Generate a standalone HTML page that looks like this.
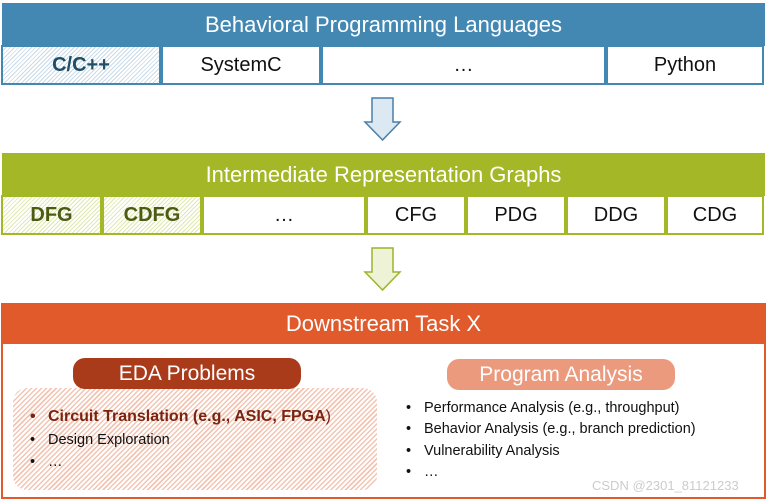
<!DOCTYPE html>
<html><head><style>
body{margin:0;width:767px;height:500px;background:#fff;position:relative;overflow:hidden;font-family:"Liberation Sans",sans-serif}
.a{position:absolute;box-sizing:border-box;display:flex;align-items:center;justify-content:center;white-space:nowrap}
.hb{background:#4388b3;color:#fff;font-size:22px}
.cb{border:2px solid #4388b3;background:#fff;color:#111;font-size:20px;margin-left:-2px}
.hg{background:#a4b726;color:#fff;font-size:22px}
.cg{border:2px solid #a4b726;background:#fff;color:#111;font-size:20px;margin-left:-2px}
.hatchb{background:repeating-linear-gradient(135deg,#fff 0 2px,#c9dbe8 2px 3px)}
.hatchg{background:repeating-linear-gradient(135deg,#fff 0 2px,#dfe8b0 2px 3px)}
ul{margin:0;padding:0;list-style:none;position:absolute}
li{position:absolute;white-space:nowrap;font-size:14.5px;color:#111}
li:before{content:"•";position:absolute;left:-18px}
</style></head><body>
<div class="a hb" style="left:2px;top:3px;width:763px;height:43px">Behavioral Programming Languages</div>
<div class="a cb hatchb" style="left:3px;top:45px;width:160px;height:40px;font-weight:bold;color:#1f4e68">C/C++</div>
<div class="a cb" style="left:163px;top:45px;width:160px;height:40px">SystemC</div>
<div class="a cb" style="left:323px;top:45px;width:285px;height:40px">…</div>
<div class="a cb" style="left:608px;top:45px;width:158px;height:40px">Python</div>

<svg style="position:absolute;left:0;top:0" width="767" height="500">
<polygon points="372,98 393,98 393,122 400,122 382.5,140 365,122 372,122" fill="#dce9f3" stroke="#4a7fa8" stroke-width="1.5"/>
<polygon points="372,248 393,248 393,272 400,272 382.5,290 365,272 372,272" fill="#eef3d8" stroke="#9cb42a" stroke-width="1.5"/>
</svg>

<div class="a hg" style="left:2px;top:153px;width:763px;height:43px">Intermediate Representation Graphs</div>
<div class="a cg hatchg" style="left:3px;top:195px;width:101px;height:40px;font-weight:bold;color:#4c5a14">DFG</div>
<div class="a cg hatchg" style="left:104px;top:195px;width:100px;height:40px;font-weight:bold;color:#4c5a14">CDFG</div>
<div class="a cg" style="left:204px;top:195px;width:164px;height:40px">…</div>
<div class="a cg" style="left:368px;top:195px;width:100px;height:40px">CFG</div>
<div class="a cg" style="left:468px;top:195px;width:100px;height:40px">PDG</div>
<div class="a cg" style="left:568px;top:195px;width:100px;height:40px">DDG</div>
<div class="a cg" style="left:668px;top:195px;width:98px;height:40px">CDG</div>

<div class="a" style="left:1px;top:303px;width:765px;height:196px;border:2px solid #e05a2b;background:#fff"></div>
<div class="a" style="left:1px;top:303px;width:765px;height:41px;background:#e05a2b;color:#fff;font-size:22px">Downstream Task X</div>

<div class="a" style="left:13px;top:388px;width:364px;height:102px;border-radius:14px;background:repeating-linear-gradient(135deg,#fff 0 2px,#f4c4b2 2px 3.5px)"></div>
<div class="a" style="left:73px;top:358px;width:228px;height:31px;border-radius:12px;background:#a93a1a;color:#fff;font-size:21px">EDA Problems</div>
<div class="a" style="left:447px;top:359px;width:228px;height:31px;border-radius:12px;background:#ec9a7d;color:#fff;font-size:21px">Program Analysis</div>

<ul style="left:48px;top:408px">
<li style="top:0;font-size:16px;font-weight:bold;color:#7a2410">Circuit Translation (e.g., ASIC, FPGA<span style="font-weight:normal">)</span></li>
<li style="top:24px">Design Exploration</li>
<li style="top:46px">…</li>
</ul>
<ul style="left:424px;top:400px">
<li style="top:0">Performance Analysis (e.g., throughput)</li>
<li style="top:21px">Behavior Analysis (e.g., branch prediction)</li>
<li style="top:43px">Vulnerability Analysis</li>
<li style="top:64px">…</li>
</ul>
<div style="position:absolute;left:592px;top:478px;font-size:13px;color:#ccc">CSDN @2301_81121233</div>
</body></html>
